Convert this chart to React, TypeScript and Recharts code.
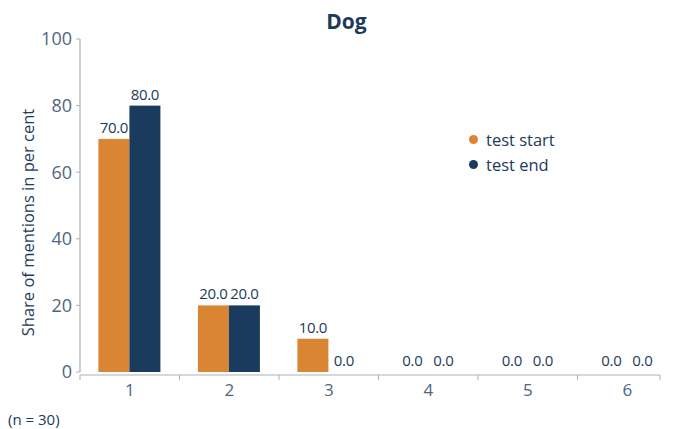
import React from "react";
import { BarChart, Bar, XAxis, YAxis } from "recharts";

const categories = ["1", "2", "3", "4", "5", "6"];
const testStart = [70.0, 20.0, 10.0, 0.0, 0.0, 0.0];
const testEnd = [80.0, 20.0, 0.0, 0.0, 0.0, 0.0];
const yTicks = [0, 20, 40, 60, 80, 100];
const seriesNames = ["test start", "test end"];

const data = categories.map((c, i) => ({ cat: c, start: testStart[i], end: testEnd[i] }));

const W = 683;
const H = 429;
const MARGIN = { top: 39, right: 6, bottom: 27, left: 0 };
const YAXIS_W = 80;
const XAXIS_H = 30;
const PLOT_LEFT = MARGIN.left + YAXIS_W;
const PLOT_RIGHT = W - MARGIN.right;
const BAND = (PLOT_RIGHT - PLOT_LEFT) / categories.length;
const AXIS_END = 660;

const ORANGE = "#D98533";
const NAVY = "#1A3B5E";
const TEXT = "#1D3A5A";
const TICK_TEXT = "#4F6682";
const AXIS = "#A9B0B8";
const FONT = "'Open Sans', sans-serif";

const XTick = (props: any) => {
  const { x, y, payload, index } = props;
  const left = x - BAND / 2;
  return (
    <g>
      {index === 0 && (
        <line x1={left} y1={y - 5} x2={AXIS_END} y2={y - 5} stroke={AXIS} strokeWidth={1.2} />
      )}
      <line x1={left} y1={y - 5} x2={left} y2={y} stroke={AXIS} strokeWidth={1} />
      {index === categories.length - 1 && (
        <line x1={AXIS_END} y1={y - 5} x2={AXIS_END} y2={y} stroke={AXIS} strokeWidth={1} />
      )}
      <text x={x} y={y + 4} dy="0.71em" textAnchor="middle" fill={TICK_TEXT} fontSize={17} fontFamily={FONT}>
        {payload.value}
      </text>
    </g>
  );
};

const makeShape = (key: string, color: string) => (props: any) => {
  const { x, y, width, height, payload } = props;
  const v = Number(payload[key]);
  const h = Math.max(0, height || 0);
  return (
    <g>
      {h > 0 && <rect x={x} y={y} width={width} height={h} fill={color} />}
      <text
        x={x + width / 2}
        y={y - 6}
        textAnchor="middle"
        fill={TEXT}
        fontSize={15}
        letterSpacing={-0.3}
        fontFamily={FONT}
      >
        {v.toFixed(1)}
      </text>
    </g>
  );
};

const YLabel = (props: any) => {
  const vb = props.viewBox || {};
  const cy = vb.y + vb.height / 2 + 17;
  const cx = 27;
  return (
    <text
      x={cx}
      y={cy}
      transform={`rotate(-90 ${cx} ${cy})`}
      textAnchor="middle"
      dominantBaseline="central"
      fill={TEXT}
      fontSize={16.5}
      fontFamily={FONT}
    >
      Share of mentions in per cent
    </text>
  );
};

export default function App() {
  return (
    <div style={{ position: "absolute", left: 0, top: 0, width: W, height: H, background: "#fff" }}>
      <div
        style={{
          position: "absolute",
          left: 0,
          width: W,
          top: 7,
          textAlign: "center",
          fontFamily: FONT,
          fontWeight: 700,
          fontSize: 21,
          color: TEXT,
          paddingLeft: 10,
          boxSizing: "border-box",
        }}
      >
        Dog
      </div>
      <BarChart width={W} height={H} data={data} margin={MARGIN} barGap={0} barCategoryGap="18.5%">
        <XAxis
          dataKey="cat"
          height={XAXIS_H}
          axisLine={false}
          tickLine={false}
          tick={<XTick />}
          interval={0}
        />
        <YAxis
          width={YAXIS_W}
          domain={[0, 100]}
          ticks={yTicks}
          interval={0}
          axisLine={{ stroke: AXIS, strokeWidth: 1.2 }}
          tickLine={{ stroke: AXIS }}
          tickSize={4}
          tickMargin={4}
          tick={{ fill: TICK_TEXT, fontSize: 18, fontFamily: FONT }}
          label={<YLabel />}
        />
        <Bar dataKey="start" name={seriesNames[0]} fill={ORANGE} isAnimationActive={false} shape={makeShape("start", ORANGE)} />
        <Bar dataKey="end" name={seriesNames[1]} fill={NAVY} isAnimationActive={false} shape={makeShape("end", NAVY)} />
      </BarChart>
      <div
        style={{
          position: "absolute",
          left: 469,
          top: 127,
          fontFamily: FONT,
          fontSize: 16.5,
          color: TEXT,
        }}
      >
        {seriesNames.map((n, i) => (
          <div key={n} style={{ display: "flex", alignItems: "center", height: 25 }}>
            <span
              style={{
                display: "inline-block",
                width: 9,
                height: 9,
                borderRadius: "50%",
                background: i === 0 ? ORANGE : NAVY,
                marginRight: 8,
              }}
            />
            {n}
          </div>
        ))}
      </div>
      <div
        style={{
          position: "absolute",
          left: 8,
          top: 409,
          fontFamily: FONT,
          fontSize: 15,
          color: TEXT,
        }}
      >
        (n = 30)
      </div>
    </div>
  );
}
